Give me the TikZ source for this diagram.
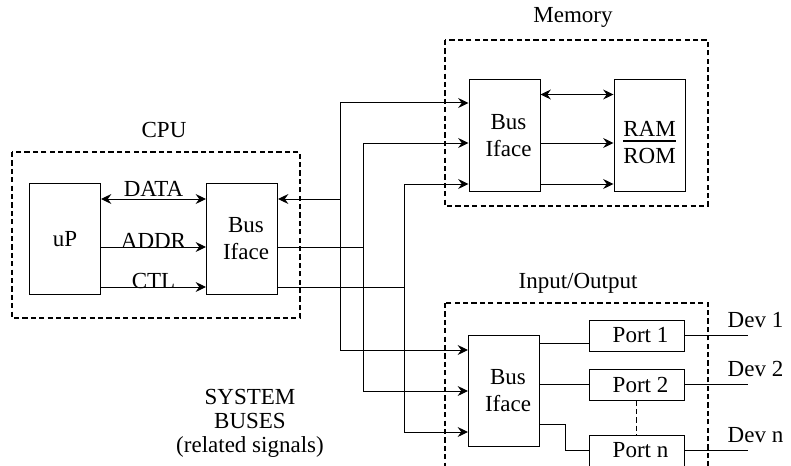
\documentclass[tikz,border=0pt]{standalone}
\usepackage{fontspec}
\setmainfont{Liberation Serif}
\usetikzlibrary{positioning, arrows.meta, calc}
\newcommand{\ifacetext}{\hspace*{4pt}Bus\\\hspace*{4pt}Iface}
\tikzset{
  unit/.style={
    draw,
    rectangle,
    line width=0.5pt,
    minimum width=35.5pt,
    minimum height=55.5pt,
    inner sep=0pt,
    align=center
  },
  portbox/.style={
    draw,
    rectangle,
    line width=0.5pt,
    minimum width=47.5pt,
    minimum height=15.5pt,
    inner sep=0pt,
    execute at begin node=\hspace*{4pt}
  },
  group/.style={
    draw,
    line width=0.75pt,
    dash pattern=on 2.6pt off 1.6pt
  },
  sig/.style={line width=0.5pt},
  arr/.style={sig, -{Stealth[length=5.2pt, width=5pt, inset=1.8pt]}},
  darr/.style={sig, {Stealth[length=5.2pt, width=5pt, inset=1.8pt]}-{Stealth[length=5.2pt, width=5pt, inset=1.8pt]}}
}
\begin{document}
\begin{tikzpicture}[x=0.5pt, y=-0.5pt, font=\fontsize{11.5}{13.5}\selectfont]
    \useasboundingbox (0,0) rectangle (791,465);
    % groups
    \draw[group] (12,152) rectangle (300,318);
    \draw[group] (445,40) rectangle (708,206);
    \draw[group] (445,303) rectangle (708,480);
    \node[anchor=base] (cpulbl) at (164,137) {CPU};
    \node[anchor=base] (memlbl) at (573,23) {Memory};
    \node[anchor=base] (iolbl) at (578,288) {Input/Output};
    % blocks
    \node[unit] (up) at (65,239) {uP};
    \node[unit, right=52.5pt of up] (cpuif) {\ifacetext};
    \node[unit] (memif) at (504.5,135.5) {\ifacetext};
    \node[unit, right=36.5pt of memif] (ram) {{\setlength{\arrayrulewidth}{1pt}\begin{tabular}{@{}c@{}}\rule{0pt}{18.5pt}RAM\\[-2.5pt]\hline\rule{0pt}{10.5pt}ROM\end{tabular}}};
    \node[unit] (ioif) at (504,391) {\ifacetext};
    \node[portbox] (port1) at (636.5,335.5) {Port 1};
    \node[portbox, below=8.5pt of port1] (port2) {Port 2};
    \node[portbox, below=17pt of port2] (portn) {Port n};
    % bus trunks
    \coordinate (d1) at (340,103);
    \coordinate (d2) at (340,199);
    \coordinate (d3) at (340,350);
    \coordinate (a1) at (363,143);
    \coordinate (a2) at (363,247);
    \coordinate (a3) at (363,391);
    \coordinate (c1) at (404,184);
    \coordinate (c2) at (404,287);
    \coordinate (c3) at (404,432);
    \draw[sig] (d1) -- (d3);
    \draw[sig] (a1) -- (a3);
    \draw[sig] (c1) -- (c3);
    \draw[arr] (d1) -- (d1 -| memif.west);
    \draw[arr] (a1) -- (a1 -| memif.west);
    \draw[arr] (c1) -- (c1 -| memif.west);
    \draw[arr] (d3) -- (d3 -| ioif.west);
    \draw[arr] (a3) -- (a3 -| ioif.west);
    \draw[arr] (c3) -- (c3 -| ioif.west);
    \draw[arr] (d2) -- (d2 -| cpuif.east);
    \draw[sig] (a2 -| cpuif.east) -- (a2);
    \draw[sig] (c2 -| cpuif.east) -- (c2);
    % inside the CPU
    \draw[darr] (d2 -| up.east) -- node[above=1pt, inner sep=0pt] (datalbl) {DATA} (d2 -| cpuif.west);
    \draw[arr] (a2 -| up.east) -- node[above=-1pt, inner sep=0pt] (addrlbl) {ADDR} (a2 -| cpuif.west);
    \draw[arr] (c2 -| up.east) -- node[above=-1pt, inner sep=0pt] (ctllbl) {CTL} (c2 -| cpuif.west);
    % inside the memory
    \draw[darr] ($(memif.north east)+(0,15)$) -- ($(ram.north west)+(0,15)$);
    \draw[arr] (a1 -| memif.east) -- (a1 -| ram.west);
    \draw[arr] (c1 -| memif.east) -- (c1 -| ram.west);
    % ports
    \coordinate (p1in) at ($(port1.south west)+(0,-8)$);
    \draw[sig] (ioif.east |- p1in) -- (p1in);
    \draw[sig] (ioif.east |- port2.west) -- (port2.west);
    \draw[sig] ($(ioif.south east)+(0,-23)$) -- ++(25,0) |- (portn.west);
    \draw[line width=0.75pt, dash pattern=on 2.6pt off 1.6pt] (port2) -- (portn);
    \draw[sig] (port1.east) -- ++(63,0) coordinate (dev1);
    \draw[sig] (port2.east) -- ++(63,0) coordinate (dev2);
    \draw[sig] (portn.east) -- ++(63,0) coordinate (devn);
    \node[anchor=base] (dev1lbl) at ($(dev1)+(8,-8)$) {Dev 1};
    \node[anchor=base] (dev2lbl) at ($(dev2)+(8,-8)$) {Dev 2};
    \node[anchor=base] (devnlbl) at ($(devn)+(8,-8)$) {Dev n};
    \node[align=center, font=\fontsize{11.5}{12}\selectfont] (buslbl) at (250,423) {SYSTEM\\BUSES\\(related signals)};
\end{tikzpicture}
\end{document}
